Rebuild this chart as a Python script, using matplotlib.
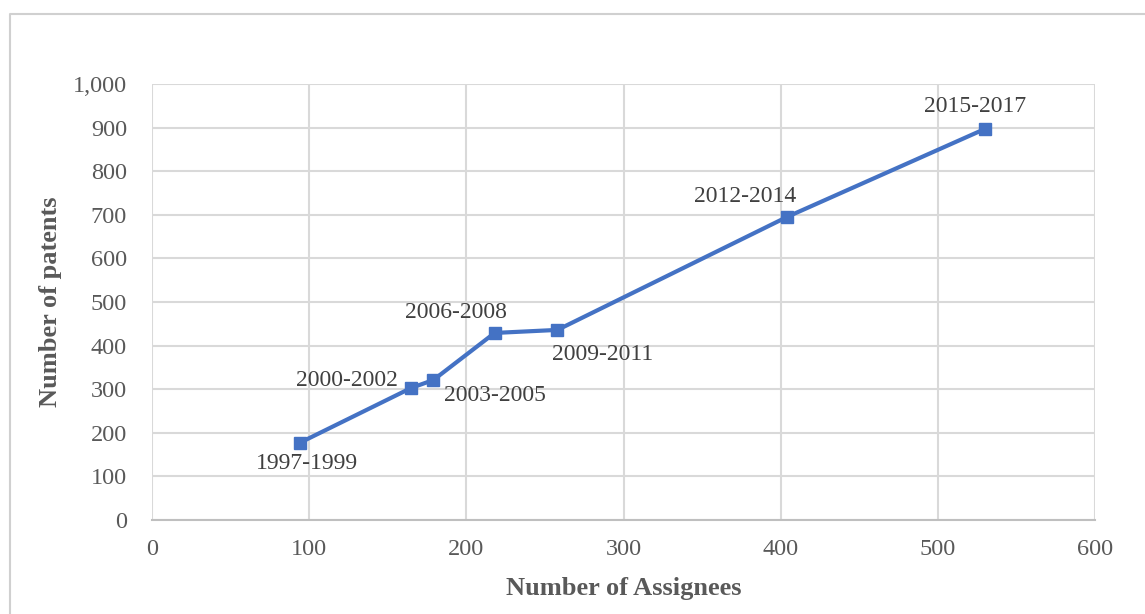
import matplotlib.pyplot as plt
from matplotlib.lines import Line2D
from matplotlib.ticker import FuncFormatter

periods = ['1997-1999', '2000-2002', '2003-2005', '2006-2008',
           '2009-2011', '2012-2014', '2015-2017']
assignees = [94, 165, 179, 218, 258, 404, 530]
patents = [177, 303, 321, 429, 436, 695, 897]

# label offsets in points (dx, dy) and alignment
offsets = [(5, -15, 'center', 'center'), (-10, 5, 'right', 'center'),
           (8, -11, 'left', 'center'), (-28, 15, 'center', 'center'),
           (-4, -18, 'left', 'center'), (-30, 15, 'center', 'center'),
           (-7, 16, 'center', 'center')]

plt.rcParams['font.family'] = ['Liberation Serif', 'DejaVu Serif']
gray = '#595959'

fig = plt.figure(figsize=(11.45, 6.14), dpi=100)
ax = fig.add_axes([152 / 1145, 1 - 520 / 614, 943 / 1145, 436 / 614])

ax.plot(assignees, patents, color='#4472C4', lw=3, marker='s', ms=8, zorder=3)
for x, y, lab, (dx, dy, ha, va) in zip(assignees, patents, periods, offsets):
    ax.annotate(lab, (x, y), xytext=(dx, dy), textcoords='offset points',
                ha=ha, va=va, fontsize=17, color='#404040')

ax.set_xlim(0, 600)
ax.set_ylim(0, 1000)
ax.set_xticks(range(0, 601, 100))
ax.set_yticks(range(0, 1001, 100))
ax.yaxis.set_major_formatter(FuncFormatter(lambda v, p: f'{int(v):,}'))
ax.grid(True, color='#d9d9d9', lw=1.5)
ax.set_axisbelow(True)
for s in ['top', 'right', 'left']:
    ax.spines[s].set_visible(False)
ax.spines['bottom'].set_color('#bfbfbf')
ax.spines['bottom'].set_linewidth(1.5)
ax.tick_params(length=0, labelsize=17.5, colors=gray)
ax.tick_params(axis='x', pad=14)
ax.tick_params(axis='y', pad=18)
ax.set_xlabel('Number of Assignees', fontsize=19, fontweight='bold', color=gray, labelpad=12)
ax.set_ylabel('Number of patents', fontsize=19, fontweight='bold', color=gray, labelpad=8)

# chart area border
fig.add_artist(Line2D([10 / 1145, 10 / 1145, 1.01], [-0.01, 1 - 14 / 614, 1 - 14 / 614],
                      transform=fig.transFigure, color='#d0d0d0', lw=1.5))

fig.savefig('out.png', dpi=100)
